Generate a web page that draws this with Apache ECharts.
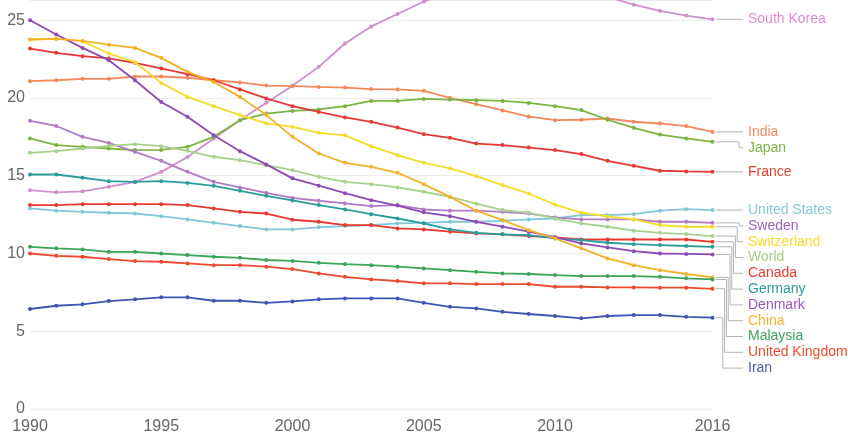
<!DOCTYPE html>
<html><head><meta charset="utf-8">
<script src="https://cdn.jsdelivr.net/npm/echarts@6/dist/echarts.min.js"></script>
<style>html,body{margin:0;padding:0;background:#fff}#c{width:848px;height:435px}</style>
</head><body><div id="c"></div>
<script>
const years = ['1990','1991','1992','1993','1994','1995','1996','1997','1998','1999','2000','2001','2002','2003','2004','2005','2006','2007','2008','2009','2010','2011','2012','2013','2014','2015','2016'];
const xTickLabels = ['1990','1995','2000','2005','2010','2016'];
const countries = ['South Korea','India','Japan','France','United States','Sweden','Switzerland','World','Canada','Germany','Denmark','China','Malaysia','United Kingdom','Iran'];

const southKorea = [14.07,13.93,14.0,14.29,14.6,15.25,16.2,17.4,18.57,19.7,20.78,22.0,23.5,24.6,25.4,26.2,26.8,27.2,27.4,27.4,27.2,26.9,26.5,26.0,25.6,25.3,25.06];
const india = [21.08,21.14,21.23,21.23,21.38,21.38,21.3,21.14,21.0,20.8,20.76,20.71,20.67,20.57,20.55,20.46,20.0,19.6,19.2,18.8,18.57,18.6,18.68,18.47,18.36,18.19,17.82];
const japan = [17.4,16.97,16.86,16.75,16.65,16.66,16.86,17.5,18.57,19.0,19.17,19.26,19.47,19.81,19.81,19.94,19.9,19.86,19.81,19.68,19.47,19.22,18.6,18.08,17.65,17.4,17.18];
const france = [23.18,22.9,22.69,22.54,22.26,21.9,21.53,21.14,20.55,19.97,19.47,19.1,18.75,18.47,18.1,17.67,17.44,17.07,16.97,16.81,16.65,16.39,15.96,15.64,15.32,15.28,15.25];
const unitedStates = [12.9,12.75,12.68,12.62,12.57,12.4,12.19,11.97,11.76,11.55,11.55,11.68,11.76,11.83,11.93,11.97,12.04,12.04,12.1,12.19,12.25,12.47,12.47,12.53,12.75,12.85,12.79];
const sweden = [18.53,18.2,17.5,17.11,16.54,15.96,15.25,14.61,14.25,13.9,13.57,13.39,13.22,13.05,13.11,12.83,12.75,12.75,12.68,12.57,12.32,12.19,12.19,12.19,12.04,12.04,11.97];
const switzerland = [23.76,23.82,23.65,22.86,22.3,20.97,20.07,19.47,18.9,18.36,18.14,17.76,17.6,16.9,16.32,15.83,15.47,14.97,14.4,13.86,13.14,12.62,12.38,12.19,11.83,11.72,11.72];
const world = [16.47,16.58,16.75,16.92,17.03,16.9,16.6,16.22,16.0,15.68,15.36,14.93,14.61,14.46,14.25,13.97,13.64,13.2,12.79,12.62,12.25,11.93,11.72,11.47,11.33,11.25,11.12];
const canada = [13.11,13.11,13.17,13.17,13.17,13.17,13.11,12.9,12.68,12.57,12.17,12.04,11.83,11.83,11.61,11.55,11.4,11.29,11.23,11.12,11.03,10.9,10.9,10.9,10.9,10.9,10.75];
const germany = [15.08,15.08,14.87,14.65,14.6,14.65,14.54,14.35,14.03,13.71,13.41,13.11,12.83,12.53,12.25,11.93,11.55,11.33,11.23,11.18,10.97,10.86,10.69,10.6,10.54,10.48,10.43];
const denmark = [25.0,24.08,23.22,22.43,21.14,19.74,18.79,17.6,16.58,15.73,14.83,14.36,13.88,13.43,13.08,12.65,12.4,12.04,11.72,11.4,11.05,10.65,10.39,10.15,10.0,9.97,9.94];
const china = [23.76,23.8,23.67,23.43,23.22,22.58,21.68,21.03,20.07,18.9,17.5,16.43,15.83,15.57,15.19,14.46,13.64,12.75,12.15,11.5,10.97,10.33,9.68,9.25,8.93,8.68,8.46];
const malaysia = [10.43,10.33,10.26,10.11,10.11,10.0,9.9,9.79,9.72,9.58,9.52,9.4,9.32,9.25,9.15,9.04,8.93,8.82,8.72,8.68,8.61,8.55,8.55,8.55,8.5,8.4,8.33];
const unitedKingdom = [10.0,9.85,9.79,9.64,9.51,9.47,9.36,9.25,9.25,9.15,9.0,8.72,8.5,8.33,8.23,8.08,8.08,8.03,8.03,8.03,7.86,7.86,7.82,7.82,7.8,7.8,7.73];
const iran = [6.43,6.64,6.73,6.94,7.05,7.18,7.18,6.96,6.96,6.83,6.92,7.05,7.11,7.11,7.11,6.83,6.57,6.47,6.25,6.11,5.98,5.83,5.98,6.04,6.04,5.93,5.87];

const seriesValues = [southKorea,india,japan,france,unitedStates,sweden,switzerland,world,canada,germany,denmark,china,malaysia,unitedKingdom,iran];
const palette = ['#d08fcb','#f2895c','#7cb342','#e53935','#80c8d8','#b07cc6','#f6dc2a','#a9d18e','#e8392f','#2a9d9a','#8e4bb5','#f3b22a','#3da55a','#ea4a2e','#4054b2'];
const labelColors = ['#e08bd6','#f4895c','#7cb342','#e5402f','#86c7d6','#a064c2','#f7dc2a','#a3cf8a','#e8392f','#2a9d9a','#9d55c0','#f3b22a','#3da55a','#ea4a2e','#4a5ab0'];

const chart = echarts.init(document.getElementById('c'), null, {renderer: 'canvas'});
const FONT = '"Liberation Sans", Arial, sans-serif';
const option = {
  animation: false,
  backgroundColor: '#fff',
  grid: {left: 30, right: 135.5, top: 0, bottom: 26, containLabel: false},
  xAxis: {
    type: 'category', data: years, boundaryGap: false,
    axisLine: {show: false}, axisTick: {show: false}, splitLine: {show: false},
    axisLabel: {interval: (i, v) => xTickLabels.includes(v), color: '#666', fontSize: 16, fontFamily: FONT, margin: 10}
  },
  yAxis: {
    type: 'value', min: 0, max: 26.3, interval: 5,
    axisLine: {show: false}, axisTick: {show: false},
    splitLine: {show: true, lineStyle: {color: '#ebebeb', width: 1}},
    axisLabel: {showMaxLabel: false, color: '#666', fontSize: 16, fontFamily: FONT, margin: 5}
  },
  series: countries.map((name, i) => ({
    name, type: 'line', data: seriesValues[i],
    symbol: 'circle', symbolSize: 4, showSymbol: true,
    lineStyle: {width: 1.8, color: palette[i]},
    itemStyle: {color: palette[i]},
    clip: true, z: 2 + i
  }))
};
chart.setOption(option);

// right-hand labels with leader lines
const last = years.length - 1;
const ends = countries.map((name, i) => {
  const p = chart.convertToPixel({xAxisIndex: 0, yAxisIndex: 0}, [years[last], seriesValues[i][last]]);
  return {i, x: p[0], y: p[1]};
});
ends.sort((a, b) => a.y - b.y);
const gap = 15.8;
let prev = -Infinity;
let k = 0;
ends.forEach(e => {
  e.ly = Math.max(e.y, prev + gap);
  e.shifted = e.ly - e.y > 1.5;
  if (e.shifted) { e.k = k; k++; } else { k = 1; e.k = 0; }
  prev = e.ly;
});
const labelX = 748;
const graphics = [];
ends.forEach(e => {
  let pts;
  if (e.shifted) {
    const ex = 739 - (e.k - 1) * 1.8;
    pts = [[e.x + 3, e.y], [ex, e.y], [ex, e.ly], [labelX - 5, e.ly]];
  } else {
    pts = [[e.x + 3, e.y], [labelX - 5, e.y]];
  }
  graphics.push({type: 'polyline', shape: {points: pts}, style: {stroke: '#b4b4b4', lineWidth: 1, fill: null}, z: 1});
  graphics.push({type: 'text', x: labelX, y: e.ly, style: {text: countries[e.i], fill: labelColors[e.i], font: '14px ' + FONT, align: 'left', verticalAlign: 'middle'}, z: 10});
});
chart.setOption({graphic: graphics});
</script>
</body></html>
